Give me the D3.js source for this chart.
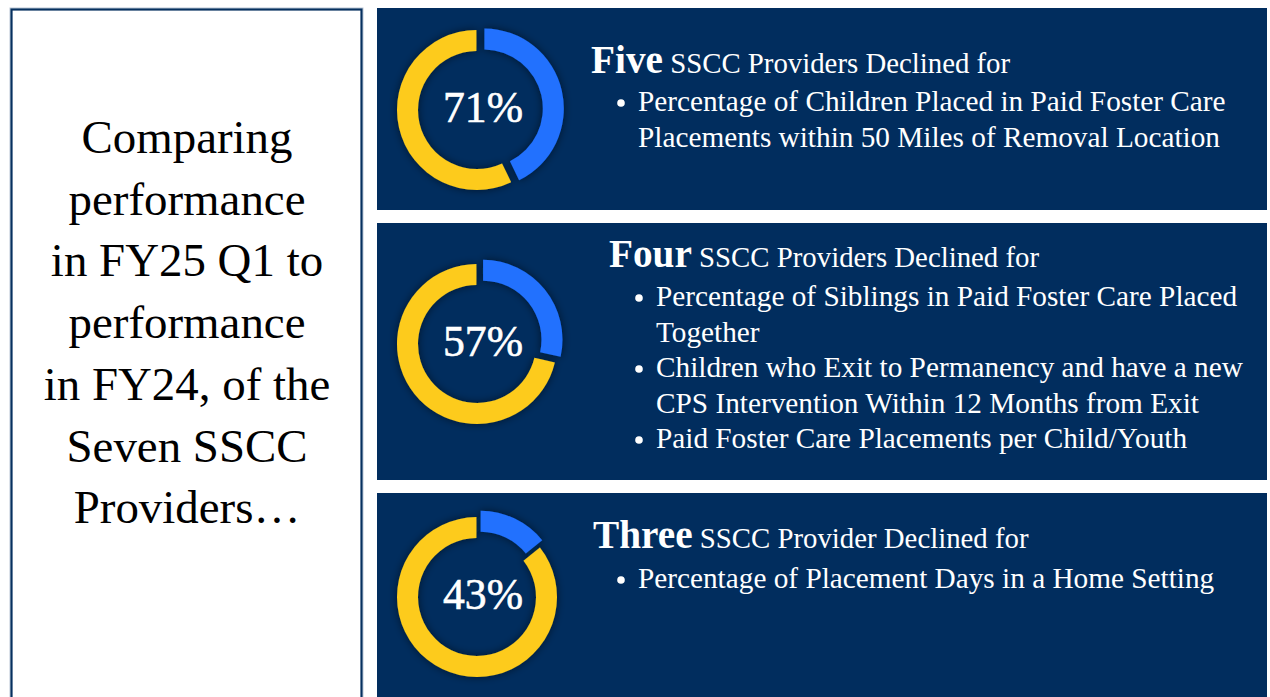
<!DOCTYPE html>
<html>
<head>
<meta charset="utf-8">
<script src="https://cdnjs.cloudflare.com/ajax/libs/d3/7.8.5/d3.min.js"></script>
<style>
  html, body { margin: 0; padding: 0; background: #ffffff; }
  svg { display: block; }
</style>
</head>
<body>
<div id="chart-area"></div>
<script>
const WIDTH = 1270
const HEIGHT = 697
const FONT = "'Liberation Serif', 'DejaVu Serif', serif"

// data
const countWords = ["Five", "Four", "Three"]
const percentLabels = ["71%", "57%", "43%"]
const headers = [
	"SSCC Providers Declined for",
	"SSCC Providers Declined for",
	"SSCC Provider Declined for"
]
const blueShares = [3, 2, 1]
const yellowShares = [4, 5, 6]
const bulletItems = [
	[["Percentage of Children Placed in Paid Foster Care", "Placements within 50 Miles of Removal Location"]],
	[
		["Percentage of Siblings in Paid Foster Care Placed", "Together"],
		["Children who Exit to Permanency and have a new", "CPS Intervention Within 12 Months from Exit"],
		["Paid Foster Care Placements per Child/Youth"]
	],
	[["Percentage of Placement Days in a Home Setting"]]
]
const introLines = ["Comparing", "performance", "in FY25 Q1 to", "performance", "in FY24, of the", "Seven SSCC", "Providers…"]

// colours
const NAVY = "#012d5e"
const BLUE = "#2171fe"
const YELLOW = "#fdcb1a"

// layout of the three navy panels
const PANELS = [
	{ top: 8, bottom: 210, titleX: 591, titleY: 73, bulletX: 621, lineY: 111, cy: 110 },
	{ top: 223, bottom: 480, titleX: 609, titleY: 267, bulletX: 639, lineY: 306, cy: 344 },
	{ top: 493, bottom: 697, titleX: 593, titleY: 548, bulletX: 621, lineY: 588, cy: 597 }
]
const PANEL_LEFT = 377
const PANEL_RIGHT = 1267
const DONUT_CX = 477
const LINE_GAP = 35.5

const svg = d3.select("#chart-area").append("svg")
	.attr("width", WIDTH)
	.attr("height", HEIGHT)

const defs = svg.append("defs")
const shadow = defs.append("filter")
	.attr("id", "ring-shadow")
	.attr("x", "-30%").attr("y", "-30%")
	.attr("width", "160%").attr("height", "160%")
shadow.append("feDropShadow")
	.attr("dx", 0).attr("dy", 0)
	.attr("stdDeviation", 4)
	.attr("flood-color", "#000814")
	.attr("flood-opacity", 0.55)

// measure helper: font size so that text fits a target width
const probe = svg.append("text").attr("x", -9999).attr("y", -9999).attr("font-family", FONT)
function fitSize(str, weight, target) {
	probe.attr("font-size", 100).attr("font-weight", weight).text(str)
	const w = probe.node().getComputedTextLength()
	return 100 * target / w
}

// left white panel
svg.append("rect")
	.attr("x", 10).attr("y", 8)
	.attr("width", 353).attr("height", HEIGHT)
	.attr("fill", "none")
	.attr("stroke", "#b9c6d6")
	.attr("stroke-width", 1)
svg.append("rect")
	.attr("x", 11.5).attr("y", 9.5)
	.attr("width", 350).attr("height", HEIGHT)
	.attr("fill", "#ffffff")
	.attr("stroke", "#06305f")
	.attr("stroke-width", 2.2)

const introSize = fitSize("performance", "normal", 237)
svg.append("g").selectAll("text")
	.data(introLines)
	.join("text")
	.attr("x", 187)
	.attr("y", (d, i) => 153 + i * 61.7)
	.attr("text-anchor", "middle")
	.attr("font-family", FONT)
	.attr("font-size", introSize)
	.attr("fill", "#000000")
	.text(d => d)

// sizes for the right side
const bulletSize = fitSize(bulletItems[0][0][0], "normal", 588)
const headSize = fitSize(headers[0], "normal", 340)
const wordSize = fitSize(countWords[0], "bold", 72)
const pctSize = fitSize(percentLabels[0], "normal", 80)

const pie = d3.pie().sort(null).value(d => d.value)
const arc = d3.arc().innerRadius(59).outerRadius(80).padAngle(0.012)

PANELS.forEach((p, i) => {
	const g = svg.append("g")

	g.append("rect")
		.attr("x", PANEL_LEFT).attr("y", p.top)
		.attr("width", PANEL_RIGHT - PANEL_LEFT)
		.attr("height", p.bottom - p.top)
		.attr("fill", NAVY)

	// donut
	const slices = pie([
		{ key: "blue", value: blueShares[i], color: BLUE },
		{ key: "yellow", value: yellowShares[i], color: YELLOW }
	])
	const ring = g.append("g")
		.attr("transform", `translate(${DONUT_CX}, ${p.cy})`)
		.attr("filter", "url(#ring-shadow)")
	ring.selectAll("path")
		.data(slices)
		.join("path")
		.attr("d", arc)
		.attr("fill", d => d.data.color)
		.attr("transform", d => {
			if (d.data.key !== "blue") return null
			const mid = (d.startAngle + d.endAngle) / 2
			return `translate(${Math.sin(mid) * 7}, ${-Math.cos(mid) * 7})`
		})

	g.append("text")
		.attr("x", DONUT_CX + 6)
		.attr("y", p.cy + 12)
		.attr("text-anchor", "middle")
		.attr("font-family", FONT)
		.attr("font-size", pctSize)
		.attr("fill", "#ffffff")
		.attr("stroke", "#ffffff")
		.attr("stroke-width", 0.6)
		.text(percentLabels[i])

	// heading
	const head = g.append("text")
		.attr("x", p.titleX)
		.attr("y", p.titleY)
		.attr("font-family", FONT)
		.attr("fill", "#ffffff")
	head.append("tspan")
		.attr("font-weight", "bold")
		.attr("font-size", wordSize)
		.text(countWords[i])
	head.append("tspan")
		.attr("font-size", headSize)
		.text(" " + headers[i])

	// bullets
	let row = 0
	bulletItems[i].forEach(item => {
		g.append("circle")
			.attr("cx", p.bulletX)
			.attr("cy", p.lineY + row * LINE_GAP - 8)
			.attr("r", 3.8)
			.attr("fill", "#ffffff")
		item.forEach(line => {
			g.append("text")
				.attr("x", p.bulletX + 17)
				.attr("y", p.lineY + row * LINE_GAP)
				.attr("font-family", FONT)
				.attr("font-size", bulletSize)
				.attr("fill", "#ffffff")
				.text(line)
			row++
		})
	})
})

probe.remove()
</script>
</body>
</html>
